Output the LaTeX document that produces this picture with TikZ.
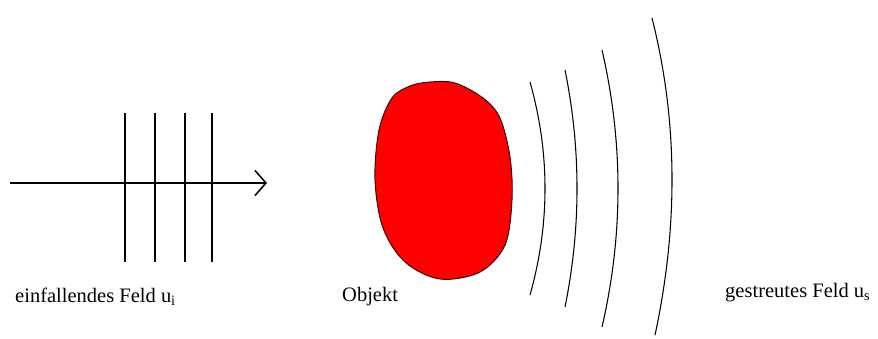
\documentclass[tikz,border=0pt]{standalone}
\usepackage{fontspec}
\setmainfont{Liberation Serif}
\usetikzlibrary{arrows.meta}

\begin{document}
\begin{tikzpicture}[
    x=0.03cm, y=-0.03cm,
    label/.style={anchor=base west, inner sep=0pt, font=\fontsize{17.5}{20}\selectfont},
    front/.style={line width=1.6pt},
    scat/.style={line width=0.9pt},
    line/.style={-{Straight Barb[length=0.33cm, width=0.75cm, line width=1.3pt]}, line width=1.6pt},
  ]
  \useasboundingbox (0,0) rectangle (878,338);

  % incident plane wave
  \coordinate (src) at (10,183);
  \coordinate (tip) at (267,183);
  \draw[line] (src) -- (tip);
  \foreach \x in {125,155,185,212}
    \draw[front] (\x,113) -- (\x,262);

  % scattering object
  \draw[fill=red, draw=black!80!red, line width=0.8pt] plot[smooth cycle, tension=0.55] coordinates {
    (430,82) (455,83) (483,98) (500,118) (510,157) (512,200) (505,245)
    (480,272) (440,279) (405,262) (383,228) (375,180) (379,130) (392,98) (410,86)};

  % scattered wave fronts
  \foreach \tx/\ty/\mx/\bx/\by in {530/82/545/530/295, 565/70/577/565/307,
                                  602/50/618/602/327, 652/18/672/655/335}
    \draw[scat] (\tx,\ty) .. controls ({\tx+4/3*(\mx-\tx)},{\ty+(\by-\ty)/3})
                          and ({\bx+4/3*(\mx-\bx)},{\by-(\by-\ty)/3}) .. (\bx,\by);

  \node[label] (inc) at (15,302) {einfallendes Feld u\textsubscript{i}};
  \node[label] (obj) at (342,301) {Objekt};
  \node[label] (sca) at (725,297) {gestreutes Feld u\textsubscript{s}};

\end{tikzpicture}
\end{document}
